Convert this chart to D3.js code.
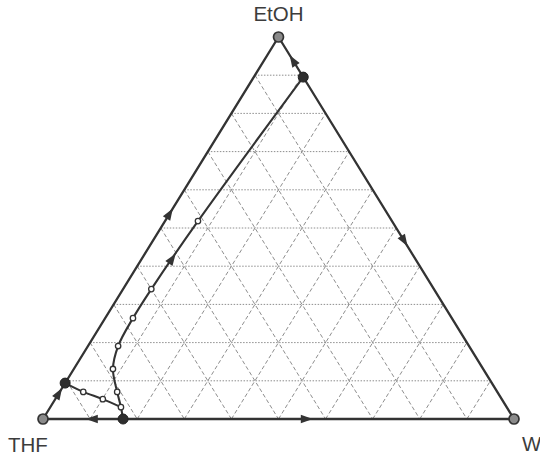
<!DOCTYPE html>
<html>
<head>
<meta charset="utf-8">
<script src="https://cdn.jsdelivr.net/npm/d3@7"></script>
<style>
  body { margin: 0; background: #fff; }
  svg text { font-family: "Liberation Sans", Arial, sans-serif; }
</style>
</head>
<body>
<svg id="chart" width="540" height="458"></svg>
<script>
// Compositions are mole fractions [xEtOH, xW]; xTHF = 1 - xEtOH - xW.
const componentNames = ["EtOH", "THF", "W"];
const pureComponents = [[1, 0], [0, 0], [0, 1]];           // EtOH, THF, W
const azeotropes = [[0.895, 0.105], [0.094, 0.0], [0.0, 0.17]]; // EtOH-W, THF-EtOH, THF-W

// Distillation boundary from the EtOH-W azeotrope to the THF-W azeotrope
const boundaryEtOH = [0.895, 0.518, 0.340, 0.264, 0.191, 0.131, 0.071, 0.031, 0.0];
const boundaryW    = [0.105, 0.070, 0.060, 0.059, 0.064, 0.083, 0.122, 0.150, 0.17];
const boundaryMarked = [1, 2, 3, 4, 5, 6, 7];

// Boundary from the THF-EtOH azeotrope into the junction near the THF-W azeotrope
const lowerEtOH = [0.094, 0.071, 0.052, 0.031];
const lowerW    = [0.0,   0.050, 0.101, 0.150];
const lowerMarked = [1, 2];

// Direction arrows: [from, to, position along the segment]
const arrowFrom = [[0.895, 0.105], [0.895, 0.105], [0.094, 0.0], [0, 0], [0, 0.17], [0, 0.17], [0.340, 0.060]];
const arrowTo   = [[1, 0],         [0, 1],         [1, 0],       [0.094, 0], [0, 0], [0, 1],   [0.518, 0.070]];
const arrowAt   = [0.42, 0.48, 0.49, 0.72, 0.39, 0.47, 0.45];

const gridSteps = d3.range(1, 10).map(i => i / 10);

const svg = d3.select("#chart");

// Cartesian scales for the ternary plane: u = xW + xEtOH/2, v = xEtOH
const xScale = d3.scaleLinear().domain([0, 1]).range([43, 514]);
const yScale = d3.scaleLinear().domain([0, 1]).range([419, 37]);
const pos = ([e, w]) => [xScale(w + e / 2), yScale(e)];

const ink = "#333";
const gridColor = "#8e8e8e";

// Grid: lines of constant EtOH (horizontal), constant THF and constant W
const grid = svg.append("g");
gridSteps.forEach(f => {
  const hl = [pos([f, 0]), pos([f, 1 - f])];
  grid.append("line")
    .attr("x1", hl[0][0]).attr("y1", hl[0][1]).attr("x2", hl[1][0]).attr("y2", hl[1][1])
    .attr("stroke", gridColor).attr("stroke-width", 1).attr("stroke-dasharray", "1.5,1.5");
  const tl = [pos([1 - f, 0]), pos([0, 1 - f])];   // constant THF = f
  grid.append("line")
    .attr("x1", tl[0][0]).attr("y1", tl[0][1]).attr("x2", tl[1][0]).attr("y2", tl[1][1])
    .attr("stroke", gridColor).attr("stroke-width", 1).attr("stroke-dasharray", "4,2.5");
  const wl = [pos([0, f]), pos([1 - f, f])];        // constant W = f
  grid.append("line")
    .attr("x1", wl[0][0]).attr("y1", wl[0][1]).attr("x2", wl[1][0]).attr("y2", wl[1][1])
    .attr("stroke", gridColor).attr("stroke-width", 1).attr("stroke-dasharray", "4,2.5");
});

// Triangle edges
const edge = d3.line();
svg.append("path")
  .attr("d", edge([pos(pureComponents[0]), pos(pureComponents[1]), pos(pureComponents[2])]) + "Z")
  .attr("fill", "none").attr("stroke", ink).attr("stroke-width", 2.3).attr("stroke-linejoin", "round");

// Boundaries
const curve = d3.line().curve(d3.curveCatmullRom.alpha(0.5));
const boundaryPts = boundaryEtOH.map((e, i) => pos([e, boundaryW[i]]));
const lowerPts = lowerEtOH.map((e, i) => pos([e, lowerW[i]]));
svg.append("path").attr("d", curve(boundaryPts))
  .attr("fill", "none").attr("stroke", ink).attr("stroke-width", 2.1);
svg.append("path").attr("d", curve(lowerPts))
  .attr("fill", "none").attr("stroke", ink).attr("stroke-width", 2.1);

// Arrows
arrowFrom.forEach((a, i) => {
  const p0 = pos(a), p1 = pos(arrowTo[i]);
  const t = arrowAt[i];
  const cx = p0[0] + (p1[0] - p0[0]) * t, cy = p0[1] + (p1[1] - p0[1]) * t;
  const ang = Math.atan2(p1[1] - p0[1], p1[0] - p0[0]) * 180 / Math.PI;
  svg.append("path")
    .attr("d", "M6,0 L-6,-4.3 L-6,4.3 Z")
    .attr("transform", `translate(${cx},${cy}) rotate(${ang})`)
    .attr("fill", ink);
});

// Sample points on the boundaries
const openPts = boundaryMarked.map(i => boundaryPts[i]).concat(lowerMarked.map(i => lowerPts[i]));
svg.append("g").selectAll("circle").data(openPts).join("circle")
  .attr("cx", d => d[0]).attr("cy", d => d[1]).attr("r", 2.7)
  .attr("fill", "#fff").attr("stroke", ink).attr("stroke-width", 1.3);

// Azeotropes
svg.append("g").selectAll("circle").data(azeotropes).join("circle")
  .attr("cx", d => pos(d)[0]).attr("cy", d => pos(d)[1]).attr("r", 5)
  .attr("fill", "#2e2e2e").attr("stroke", "#222").attr("stroke-width", 1);

// Pure components
svg.append("g").selectAll("circle").data(pureComponents).join("circle")
  .attr("cx", d => pos(d)[0]).attr("cy", d => pos(d)[1]).attr("r", 5)
  .attr("fill", "#8a8a8a").attr("stroke", "#333").attr("stroke-width", 1.7);

// Corner labels
const labelStyle = sel => sel.attr("font-size", 20.5).attr("fill", "#3c3c3c");
svg.append("text").text(componentNames[0]).call(labelStyle)
  .attr("x", pos(pureComponents[0])[0]).attr("y", 21).attr("text-anchor", "middle");
svg.append("text").text(componentNames[1]).call(labelStyle)
  .attr("x", 8).attr("y", 452);
svg.append("text").text(componentNames[2]).call(labelStyle)
  .attr("x", 522).attr("y", 451);
</script>
</body>
</html>
